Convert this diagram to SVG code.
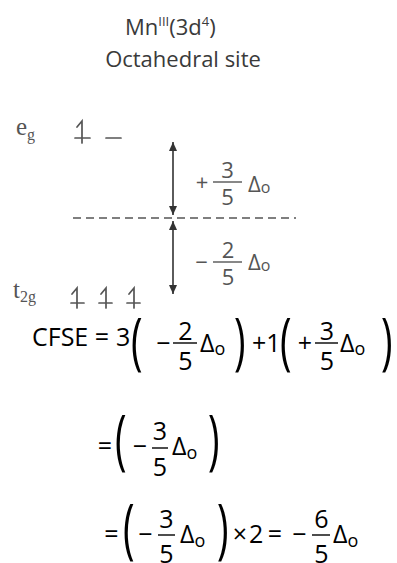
<svg xmlns="http://www.w3.org/2000/svg" width="397" height="563" viewBox="0 0 397 563">
<style>
.title{font-family:"Open Sans","Noto Sans",sans-serif;font-size:22px;fill:#3a3a3a}
.lbl{font-family:"Liberation Serif","DejaVu Serif",serif;font-size:25px;fill:#555}
.sub{font-size:16px}
.dg{font-family:"Open Sans","Noto Sans",sans-serif;font-size:22px;fill:#555}
.dgo{font-family:"Open Sans","Noto Sans",sans-serif;font-size:16px;fill:#555}
.eq{font-family:"Open Sans","Noto Sans",sans-serif;font-size:25px;fill:#000}
.eqo{font-family:"Open Sans","Noto Sans",sans-serif;font-size:18px;fill:#000}
.mid{text-anchor:middle}
.par{font-family:"Open Sans","Noto Sans",sans-serif;font-size:26px;fill:#000}
.lev{stroke:#555;stroke-width:1.7;fill:none;stroke-linecap:round}
.bar{stroke:#555;stroke-width:1.4}
.ebar{stroke:#000;stroke-width:1.4}
</style>
<defs>
<marker id="ah" viewBox="0 0 9 8" refX="9" refY="4" markerWidth="9" markerHeight="8" markerUnits="userSpaceOnUse" orient="auto-start-reverse">
<path d="M0,0 L9,4 L0,8 z" fill="#333"/>
</marker>
</defs>

<g id="title">
<text class="title" x="125" y="35">Mn<tspan font-size="13" dy="-9">III</tspan><tspan dy="9">(3d</tspan><tspan font-size="13" dy="-9">4</tspan><tspan dy="9">)</tspan></text>
<text class="title mid" x="183" y="67">Octahedral site</text>
</g>

<g id="eg-level">
<text class="lbl" x="16" y="135">e<tspan class="sub" dy="5">g</tspan></text>
<path class="lev" d="M75,138 H90 M82,143 V121 L77,127"/>
<path class="lev" d="M106,138 H121"/>
</g>

<g id="t2g-level">
<text class="lbl" x="13" y="298" font-size="22">t<tspan class="sub" font-size="15" dy="4">2g</tspan></text>
<path class="lev" d="M71,303 H84 M77,308 V288 L72,294"/>
<path class="lev" d="M99,303 H112 M106,308 V288 L101,294"/>
<path class="lev" d="M127,303 H140 M134,308 V288 L129,294"/>
</g>

<g id="connectors">
<line x1="73" y1="218" x2="296" y2="218" stroke="#555" stroke-width="1.6" stroke-dasharray="8 5"/>
<line x1="173" y1="142" x2="173" y2="215" stroke="#333" stroke-width="1.6" marker-start="url(#ah)" marker-end="url(#ah)"/>
<line x1="173" y1="221" x2="173" y2="294" stroke="#333" stroke-width="1.6" marker-start="url(#ah)" marker-end="url(#ah)"/>
</g>

<g id="label-plus">
<text class="dg mid" x="202" y="190">+</text>
<line class="bar" x1="213" y1="182" x2="242" y2="182"/>
<text class="dg mid" x="227.5" y="178">3</text>
<text class="dg mid" x="227.5" y="205">5</text>
<text class="dg" x="248" y="192">Δ<tspan class="dgo" dy="1">o</tspan></text>
</g>

<g id="label-minus">
<text class="dg mid" x="201.5" y="270">−</text>
<line class="bar" x1="213" y1="262" x2="242" y2="262"/>
<text class="dg mid" x="228" y="258">2</text>
<text class="dg mid" x="228" y="285">5</text>
<text class="dg" x="248" y="270">Δ<tspan class="dgo" dy="1">o</tspan></text>
</g>

<g id="equation-1">
<text class="eq" x="32" y="346">CFSE =</text>
<text class="eq" x="116" y="346">3</text>
<text class="par" transform="translate(131,363) scale(1.5,2.4)">(</text>
<text class="eq mid" x="163.5" y="352">−</text>
<line class="ebar" x1="173" y1="343" x2="197" y2="343"/>
<text class="eq mid" x="185.5" y="340">2</text>
<text class="eq mid" x="185.5" y="370">5</text>
<text class="eq" x="200" y="352">Δ<tspan class="eqo" dy="3">o</tspan></text>
<text class="par" transform="translate(234,363) scale(1.5,2.4)">)</text>
<text class="eq" x="252" y="352">+1</text>
<text class="par" transform="translate(280,363) scale(1.5,2.4)">(</text>
<text class="eq mid" x="305" y="352">+</text>
<line class="ebar" x1="315" y1="343" x2="338" y2="343"/>
<text class="eq mid" x="327" y="340">3</text>
<text class="eq mid" x="327" y="370">5</text>
<text class="eq" x="340" y="352">Δ<tspan class="eqo" dy="3">o</tspan></text>
<text class="par" transform="translate(381,363) scale(1.5,2.4)">)</text>
</g>

<g id="equation-2">
<text class="eq mid" x="105" y="455">=</text>
<text class="par" transform="translate(115,462) scale(1.5,2.5)">(</text>
<text class="eq mid" x="140" y="455">−</text>
<line class="ebar" x1="152" y1="448" x2="168" y2="448"/>
<text class="eq mid" x="160" y="440">3</text>
<text class="eq mid" x="160" y="476">5</text>
<text class="eq" x="172" y="455">Δ<tspan class="eqo" dy="4">o</tspan></text>
<text class="par" transform="translate(208,462) scale(1.5,2.5)">)</text>
</g>

<g id="equation-3">
<text class="eq mid" x="111.5" y="543">=</text>
<text class="par" transform="translate(123,551) scale(1.5,2.5)">(</text>
<text class="eq mid" x="145.5" y="543">−</text>
<line class="ebar" x1="158" y1="535" x2="175" y2="535"/>
<text class="eq mid" x="166.5" y="528">3</text>
<text class="eq mid" x="166.5" y="563">5</text>
<text class="eq" x="180" y="543">Δ<tspan class="eqo" dy="4">o</tspan></text>
<text class="par" transform="translate(217,551) scale(1.5,2.5)">)</text>
<text class="eq mid" x="240" y="543">×</text>
<text class="eq" x="249" y="543">2</text>
<text class="eq mid" x="275" y="543">=</text>
<text class="eq mid" x="299.5" y="543">−</text>
<line class="ebar" x1="312" y1="535" x2="330" y2="535"/>
<text class="eq mid" x="321.5" y="528">6</text>
<text class="eq mid" x="321.5" y="563">5</text>
<text class="eq" x="333" y="543">Δ<tspan class="eqo" dy="4">o</tspan></text>
</g>
</svg>
